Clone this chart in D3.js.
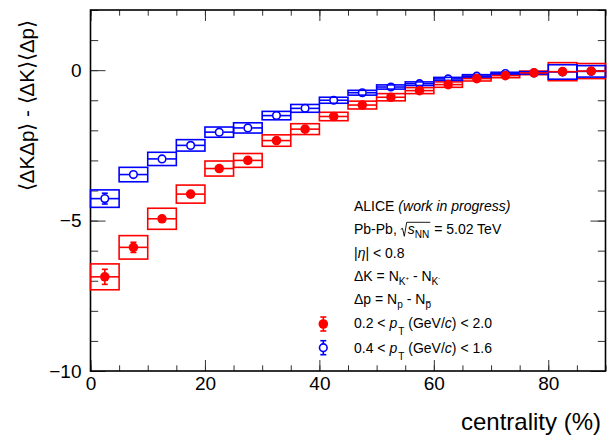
<!DOCTYPE html>
<html>
<head>
<meta charset="utf-8">
<script src="https://cdn.jsdelivr.net/npm/d3@7"></script>
<style>
  body { margin: 0; background: #fff; }
  svg { display: block; font-family: "Liberation Sans", Arial, sans-serif; }
  svg text { white-space: pre; }
</style>
</head>
<body>
<div id="chart"></div>
<script>
// centrality bins (%)
const centLow  = [0, 5, 10, 15, 20, 25, 30, 35, 40, 45, 50, 55, 60, 65, 70, 75, 80, 85];
const centHigh = [5, 10, 15, 20, 25, 30, 35, 40, 45, 50, 55, 60, 65, 70, 75, 80, 85, 90];

// 0.2 < pT < 2.0 (red, filled)
const redVal  = [-6.87, -5.89, -4.94, -4.12, -3.27, -3.00, -2.34, -1.96, -1.54, -1.16, -0.90, -0.68, -0.48, -0.28, -0.18, -0.09, -0.05, -0.03];
const redStat = [0.25, 0.17, 0.13, 0.10, 0.08, 0.07, 0.06, 0.05, 0.04, 0.04, 0.03, 0.03, 0.03, 0.02, 0.02, 0.02, 0.05, 0.05];
const redSys  = [0.43, 0.39, 0.35, 0.30, 0.25, 0.23, 0.19, 0.18, 0.14, 0.13, 0.12, 0.10, 0.09, 0.08, 0.07, 0.06, 0.30, 0.25];

// 0.4 < pT < 1.6 (blue, open)
const blueVal  = [-4.27, -3.47, -2.95, -2.50, -2.06, -1.92, -1.51, -1.27, -1.00, -0.75, -0.56, -0.45, -0.29, -0.20, -0.11, -0.09, -0.06, -0.04];
const blueStat = [0.18, 0.13, 0.10, 0.08, 0.07, 0.06, 0.05, 0.04, 0.04, 0.03, 0.03, 0.02, 0.02, 0.02, 0.02, 0.02, 0.04, 0.04];
const blueSys  = [0.29, 0.24, 0.22, 0.19, 0.17, 0.17, 0.14, 0.13, 0.10, 0.08, 0.07, 0.06, 0.05, 0.05, 0.04, 0.04, 0.24, 0.19];

const xMajor = [0, 20, 40, 60, 80];
const xMinor = d3.range(0, 91, 5);
const yMajor = [-10, -5, 0];
const yMinor = d3.range(-10, 2.01, 1);

const W = 609, H = 439;
const frame = {left: 90.5, right: 605.5, top: 10, bottom: 371};

const svg = d3.select("#chart").append("svg")
    .attr("width", W)
    .attr("height", H);

const x = d3.scaleLinear().domain([0, 90]).range([frame.left, frame.right]);
const y = d3.scaleLinear().domain([-10, 2]).range([frame.bottom, frame.top]);

// axes, ticks pointing into the frame
function tickAxis(axis, scale, vals, size, pad, labels) {
    const a = axis(scale).tickValues(vals).tickSize(-size).tickPadding(pad);
    if (!labels) a.tickFormat("");
    else a.tickFormat(d3.format("d"));
    return a;
}
const axes = svg.append("g");
function addAxis(axis, vals, size, pad, labels, tr, scale) {
    const g = axes.append("g").attr("transform", tr)
        .call(tickAxis(axis, scale, vals, size, pad, labels));
    g.select(".domain").remove();
    g.selectAll(".tick line").attr("stroke", "#333").attr("stroke-width", 1);
    g.selectAll("text").attr("fill", "#000").style("font-size", "19px")
        .style("font-family", "'Liberation Sans', Arial, sans-serif");
    return g;
}
addAxis(d3.axisBottom, xMinor, 5.7, 6, false, `translate(0,${frame.bottom})`, x);
addAxis(d3.axisBottom, xMajor, 11, 6, true, `translate(0,${frame.bottom})`, x);
addAxis(d3.axisTop, xMinor, 5.7, 7, false, `translate(0,${frame.top})`, x);
addAxis(d3.axisTop, xMajor, 11, 7, false, `translate(0,${frame.top})`, x);
addAxis(d3.axisLeft, yMinor, 7.7, 9, false, `translate(${frame.left},0)`, y);
addAxis(d3.axisLeft, yMajor, 15, 9, true, `translate(${frame.left},0)`, y);
addAxis(d3.axisRight, yMinor, 7.7, 9, false, `translate(${frame.right},0)`, y);
addAxis(d3.axisRight, yMajor, 15, 9, false, `translate(${frame.right},0)`, y);

svg.append("rect")
    .attr("x", frame.left).attr("y", frame.top)
    .attr("width", frame.right - frame.left)
    .attr("height", frame.bottom - frame.top)
    .attr("fill", "none").attr("stroke", "#000").attr("stroke-width", 1.6);

// axis titles
svg.append("text")
    .attr("transform", "translate(34,20) rotate(-90)")
    .attr("text-anchor", "end")
    .style("font-size", "20.5px")
    .text("\u27E8\u0394K\u0394p\u27E9 - \u27E8\u0394K\u27E9\u27E8\u0394p\u27E9");

svg.append("text")
    .attr("x", 601).attr("y", 430)
    .attr("text-anchor", "end")
    .style("font-size", "24px")
    .text("centrality (%)");

// series
const red = centLow.map((lo, i) => ({lo, hi: centHigh[i], v: redVal[i], stat: redStat[i], sys: redSys[i]}));
const blue = centLow.map((lo, i) => ({lo, hi: centHigh[i], v: blueVal[i], stat: blueStat[i], sys: blueSys[i]}));

function drawBoxes(data, color) {
    svg.append("g").selectAll("rect")
        .data(data).enter().append("rect")
        .attr("x", d => x(d.lo))
        .attr("y", d => y(d.v + d.sys))
        .attr("width", d => x(d.hi) - x(d.lo))
        .attr("height", d => y(d.v - d.sys) - y(d.v + d.sys))
        .attr("fill", "none")
        .attr("stroke", color)
        .attr("stroke-width", 1.6);
}

const mr = 4.3;
function drawPoints(data, color, filled) {
    const g = svg.append("g");
    const pts = g.selectAll("g").data(data).enter().append("g");
    pts.each(function(d) {
        const s = d3.select(this);
        const cx = x((d.lo + d.hi) / 2), cy = y(d.v);
        // horizontal bar over the bin, split at the marker
        s.append("line").attr("x1", x(d.lo)).attr("x2", cx - mr).attr("y1", cy).attr("y2", cy);
        s.append("line").attr("x1", cx + mr).attr("x2", x(d.hi)).attr("y1", cy).attr("y2", cy);
        const yt = y(d.v + d.stat), yb = y(d.v - d.stat);
        if (cy - yt > mr) {
            s.append("line").attr("x1", cx).attr("x2", cx).attr("y1", cy - mr).attr("y2", yt);
            s.append("line").attr("x1", cx - 3).attr("x2", cx + 3).attr("y1", yt).attr("y2", yt);
            s.append("line").attr("x1", cx).attr("x2", cx).attr("y1", cy + mr).attr("y2", yb);
            s.append("line").attr("x1", cx - 3).attr("x2", cx + 3).attr("y1", yb).attr("y2", yb);
        }
        s.selectAll("line").attr("stroke", color).attr("stroke-width", 1.6);
        s.append("circle").attr("cx", cx).attr("cy", cy)
            .attr("r", filled ? mr + 0.5 : mr - 0.5)
            .attr("fill", filled ? color : "none")
            .attr("stroke", filled ? "none" : color)
            .attr("stroke-width", 1.6);
    });
}

drawBoxes(red, "#ff0000");
drawBoxes(blue, "#0000ff");
drawPoints(blue, "#0000ff", false);
drawPoints(red, "#ff0000", true);

// legend / labels
const leg = svg.append("g").style("font-size", "14px");
const fs = 14;

function rich(g, x0, y0, parts) {
    let cx = x0;
    parts.forEach(p => {
        if (p.sqrt) {
            const start = cx;
            const end = rich(g, start + 7, y0, p.sqrt);
            g.append("path")
                .attr("d", `M${start},${y0 - 5} L${start + 1.8},${y0 - 6} L${start + 3.6},${y0 + 2} L${start + 6},${y0 - 12} L${end + 1},${y0 - 12}`)
                .attr("fill", "none").attr("stroke", "#000").attr("stroke-width", 0.9);
            cx = end + 1;
            return;
        }
        const size = p.size || (p.sub || p.sup ? fs * 0.72 : fs);
        const dy = p.dy != null ? p.dy : (p.sub ? 4 : p.sup ? -5 : 0);
        const t = g.append("text")
            .attr("xml:space", "preserve")
            .attr("x", cx + (p.dx || 0)).attr("y", y0 + dy)
            .style("font-size", size + "px")
            .style("font-style", p.it ? "italic" : "normal")
            .text(p.t);
        const w = t.node().getComputedTextLength();
        if (p.over) {
            g.append("line")
                .attr("x1", cx + (p.dx || 0) + 0.5).attr("x2", cx + (p.dx || 0) + w - 0.5)
                .attr("y1", y0 + dy - size * 0.62).attr("y2", y0 + dy - size * 0.62)
                .attr("stroke", "#000").attr("stroke-width", 0.9);
        }
        cx += w + (p.dx || 0);
    });
    return cx;
}

const tx = 354;
rich(leg, tx, 210.7, [{t: "ALICE "}, {t: "(work in progress)", it: true}]);
rich(leg, tx, 234.3, [{t: "Pb-Pb, "}, {sqrt: [{t: "s", it: true}, {t: "NN", sub: true}]}, {t: " = 5.02 TeV"}]);
rich(leg, tx, 257.7, [{t: "|"}, {t: "\u03B7", it: true}, {t: "| < 0.8"}]);
rich(leg, tx, 281, [{t: "\u0394K = N"}, {t: "K", sub: true}, {t: "+", size: 6, dy: -1}, {t: " - N"}, {t: "K", sub: true}, {t: "-", size: 6, dy: -1}]);
rich(leg, tx, 304, [{t: "\u0394p = N"}, {t: "p", sub: true}, {t: " - N"}, {t: "p", sub: true, over: true}]);
rich(leg, tx, 328.3, [{t: "0.2 < "}, {t: "p", it: true}, {t: "T", sub: true, dy: 7, dx: 1}, {t: " (GeV/"}, {t: "c", it: true}, {t: ") < 2.0"}]);
rich(leg, tx, 352.7, [{t: "0.4 < "}, {t: "p", it: true}, {t: "T", sub: true, dy: 7, dx: 1}, {t: " (GeV/"}, {t: "c", it: true}, {t: ") < 1.6"}]);

function legMarker(cy, color, filled) {
    const cx = 323.3;
    const g = leg.append("g").attr("stroke", color).attr("stroke-width", 1.6);
    g.append("line").attr("x1", cx).attr("x2", cx).attr("y1", cy - 7).attr("y2", cy + 7);
    g.append("line").attr("x1", cx - 3).attr("x2", cx + 3).attr("y1", cy - 7).attr("y2", cy - 7);
    g.append("line").attr("x1", cx - 3).attr("x2", cx + 3).attr("y1", cy + 7).attr("y2", cy + 7);
    g.append("circle").attr("cx", cx).attr("cy", cy)
        .attr("r", filled ? mr + 0.5 : mr - 0.5)
        .attr("fill", filled ? color : "#fff")
        .attr("stroke", filled ? "none" : color);
}
legMarker(324, "#ff0000", true);
legMarker(347.7, "#0000ff", false);
</script>
</body>
</html>
